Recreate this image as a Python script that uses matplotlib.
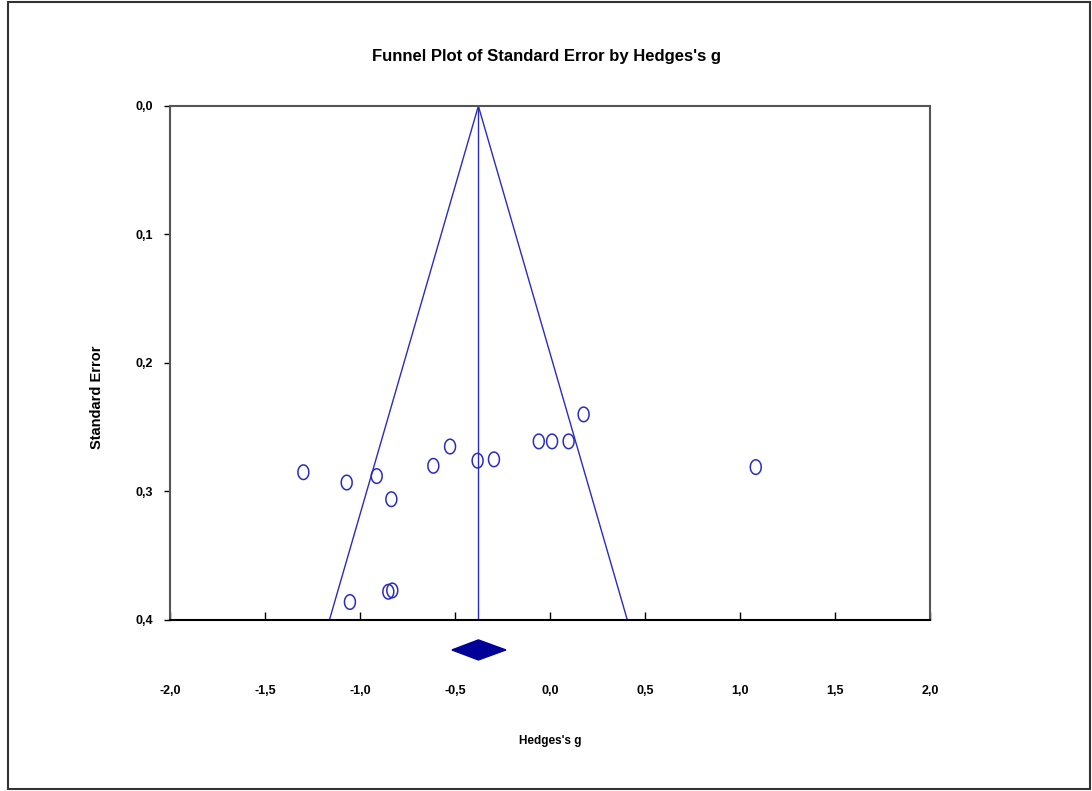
import numpy as np
import matplotlib.pyplot as plt
from matplotlib.path import Path
from matplotlib.ticker import FuncFormatter
from matplotlib.patches import Rectangle

plt.rcParams['font.family'] = ['Liberation Sans', 'DejaVu Sans']

# study effect sizes (Hedges's g) and standard errors
hedges_g = [-1.298, -1.070, -0.912, -0.835, -0.614, -0.526, -0.381, -0.295,
            -0.059, 0.011, 0.098, 0.177, -1.053, -0.851, -0.830, 1.083]
std_err = [0.285, 0.293, 0.288, 0.306, 0.280, 0.265, 0.276, 0.275,
           0.261, 0.261, 0.261, 0.240, 0.386, 0.378, 0.377, 0.281]

mean_g = -0.377
ci_low, ci_high = -0.516, -0.232
x_ticks = [-2.0, -1.5, -1.0, -0.5, 0.0, 0.5, 1.0, 1.5, 2.0]
y_ticks = [0.0, 0.1, 0.2, 0.3, 0.4]

blue = '#2b2bc0'
navy = '#000099'

fig = plt.figure(figsize=(10.92, 7.91), dpi=100)
ax = fig.add_axes([170/1092, 1-620/791, 760/1092, 514/791])

# funnel: mean +/- 1.96*se
se_line = np.array([0.0, 0.4])
ax.plot([mean_g, mean_g], [0.0, 0.4], color=blue, lw=1)
ax.plot(mean_g - 1.96*se_line, se_line, color=blue, lw=1)
ax.plot(mean_g + 1.96*se_line, se_line, color=blue, lw=1)

# slightly tall open ellipse marker
t = np.linspace(0, 2*np.pi, 60)
ell = Path(np.column_stack([0.75*np.cos(t), np.sin(t)]))
ax.scatter(hedges_g, std_err, marker=ell, s=110, facecolors='none',
           edgecolors=blue, linewidths=1.1, zorder=3)

# summary diamond below the axis
dy = 0.0078
yd = 0.4233
ax.fill([ci_low, mean_g, ci_high, mean_g], [yd, yd - dy, yd, yd + dy],
        color=navy, clip_on=False, zorder=4)

ax.set_xlim(-2.0, 2.0)
ax.set_ylim(0.4, 0.0)
ax.set_xticks(x_ticks)
ax.set_yticks(y_ticks)
fmt = FuncFormatter(lambda v, p: f'{v:.1f}'.replace('.', ',').replace('-0,0', '0,0'))
ax.xaxis.set_major_formatter(fmt)
ax.yaxis.set_major_formatter(fmt)
ax.tick_params(axis='x', direction='in', length=6, width=1, pad=47, labelsize=9)
ax.tick_params(axis='y', direction='out', length=4, width=1, pad=8, labelsize=9)
for lab in ax.get_xticklabels() + ax.get_yticklabels():
    lab.set_fontweight('bold')

for s in ['top', 'left', 'right']:
    ax.spines[s].set_color('#555555')
    ax.spines[s].set_linewidth(1.5)
ax.spines['bottom'].set_color('black')
ax.spines['bottom'].set_linewidth(1.5)

fig.text(547/1092, 1-56/791, "Funnel Plot of Standard Error by Hedges's g",
         ha='center', va='center', fontsize=12, fontweight='bold')
fig.text(550/1092, 1-741/791, "Hedges's g", ha='center', va='center',
         fontsize=8.5, fontweight='bold')
fig.text(97/1092, 1-397/791, "Standard Error", ha='center', va='center',
         rotation=90, fontsize=10.5, fontweight='bold')

# outer border
fig.patches.append(Rectangle((8/1092, 2/791), 1082/1092, 787/791, transform=fig.transFigure,
                             fill=False, edgecolor='#333333', lw=1.5))

fig.savefig('out.png', dpi=100)
